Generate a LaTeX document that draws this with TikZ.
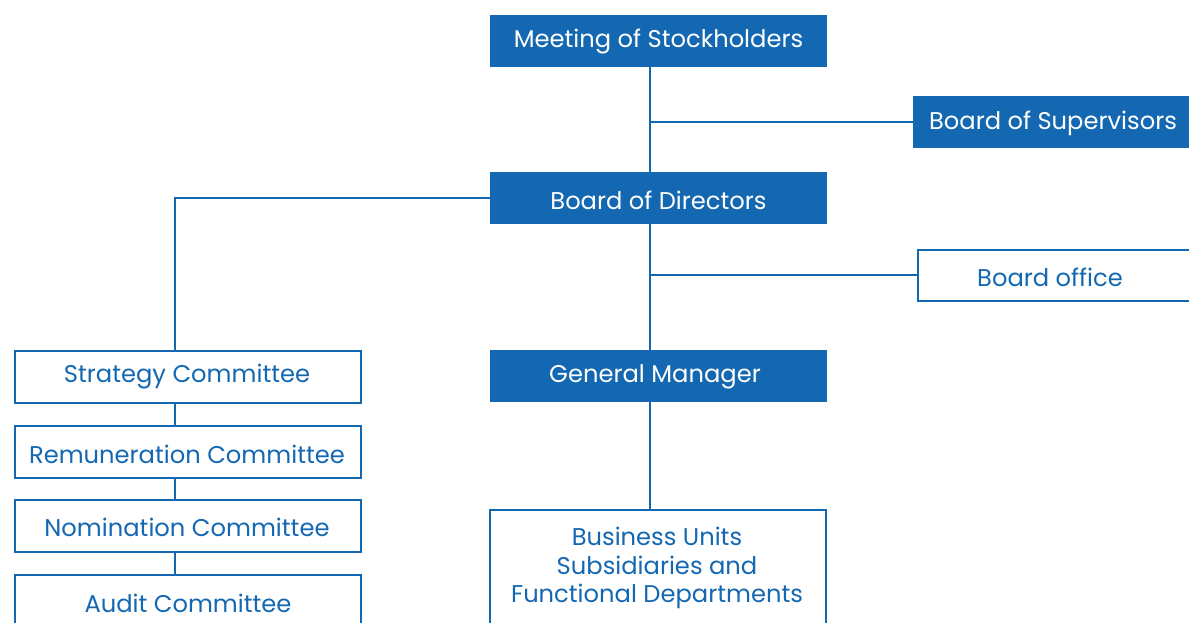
\documentclass[tikz,border=0pt]{standalone}
\usepackage{fontspec}
\setmainfont{Poppins}
\definecolor{cblue}{HTML}{1468B2}
\begin{document}
\begin{tikzpicture}[x=1pt,y=-1pt,
  filled/.style={draw=none,fill=cblue,minimum height=52pt,inner sep=0pt},
  wlbl/.style={text=white,inner sep=0pt,font=\fontsize{24.2}{28}\selectfont},
  outl/.style={draw=cblue,line width=1.3pt,fill=white,text=cblue,inner sep=0pt,font=\fontsize{24.2}{28}\selectfont},
  lbl/.style={text=cblue,font=\fontsize{24.2}{28.5}\selectfont,align=center,inner sep=0pt},
  conn/.style={draw=cblue,line width=1.2pt}]
\useasboundingbox (0,0) rectangle (1189,622);
\clip (0,0) rectangle (1189,622);
% filled boxes
\node[filled,minimum width=337pt] (meet) at (658.5,41) {};
\node[wlbl] (meetlbl) at (658.5,42) {Meeting of Stockholders};
\node[filled,minimum width=290pt] (sup) at (1058,122) {};
\node[wlbl] (suplbl) at (1053,123) {Board of Supervisors};
\node[filled,minimum width=337pt] (dir) at (658.5,198) {};
\node[wlbl] (dirlbl) at (658.5,200) {Board of Directors};
\node[filled,minimum width=337pt] (gm) at (658.5,376) {};
\node[wlbl] (gmlbl) at (655,377) {General Manager};
% outline boxes
\node[outl,minimum width=300pt,minimum height=51pt] (off) at (1068,275.5) {};
\node[lbl] (offlbl) at (1050,277.5) {Board office};
\node[outl,minimum width=346pt,minimum height=52pt] (strat) at (188,377) {};
\node[lbl] (stratlbl) at (187,377) {Strategy Committee};
\node[outl,minimum width=346pt,minimum height=52pt] (rem) at (188,452) {};
\node[lbl] (remlbl) at (187,454) {Remuneration Committee};
\node[outl,minimum width=346pt,minimum height=52pt] (nom) at (188,526) {};
\node[lbl] (nomlbl) at (187,527) {Nomination Committee};
\node[outl,minimum width=346pt,minimum height=70pt] (aud) at (188,610) {};
\node[lbl] (audlbl) at (188,603) {Audit Committee};
\node[outl,minimum width=336pt,minimum height=130pt] (bu) at (658,575) {};
\node[lbl] (bulbl) at (657,568) {Business Units\\Subsidiaries and\\Functional Departments};
% connectors
\coordinate (sp) at (650,122);
\coordinate (op) at (650,275);
\draw[conn] (meet.south -| sp) -- (dir.north -| sp);
\draw[conn] (dir.south -| sp) -- (gm.north -| sp);
\draw[conn] (sp) -- (sup.west);
\draw[conn] (op) -- (off.west |- op);
\draw[conn] (dir.west) -| (strat.north -| 175,0);
\draw[conn] (strat.south -| 175,0) -- (rem.north -| 175,0);
\draw[conn] (rem.south -| 175,0) -- (nom.north -| 175,0);
\draw[conn] (nom.south -| 175,0) -- (aud.north -| 175,0);
\draw[conn] (gm.south -| sp) -- (bu.north -| sp);
\end{tikzpicture}
\end{document}
